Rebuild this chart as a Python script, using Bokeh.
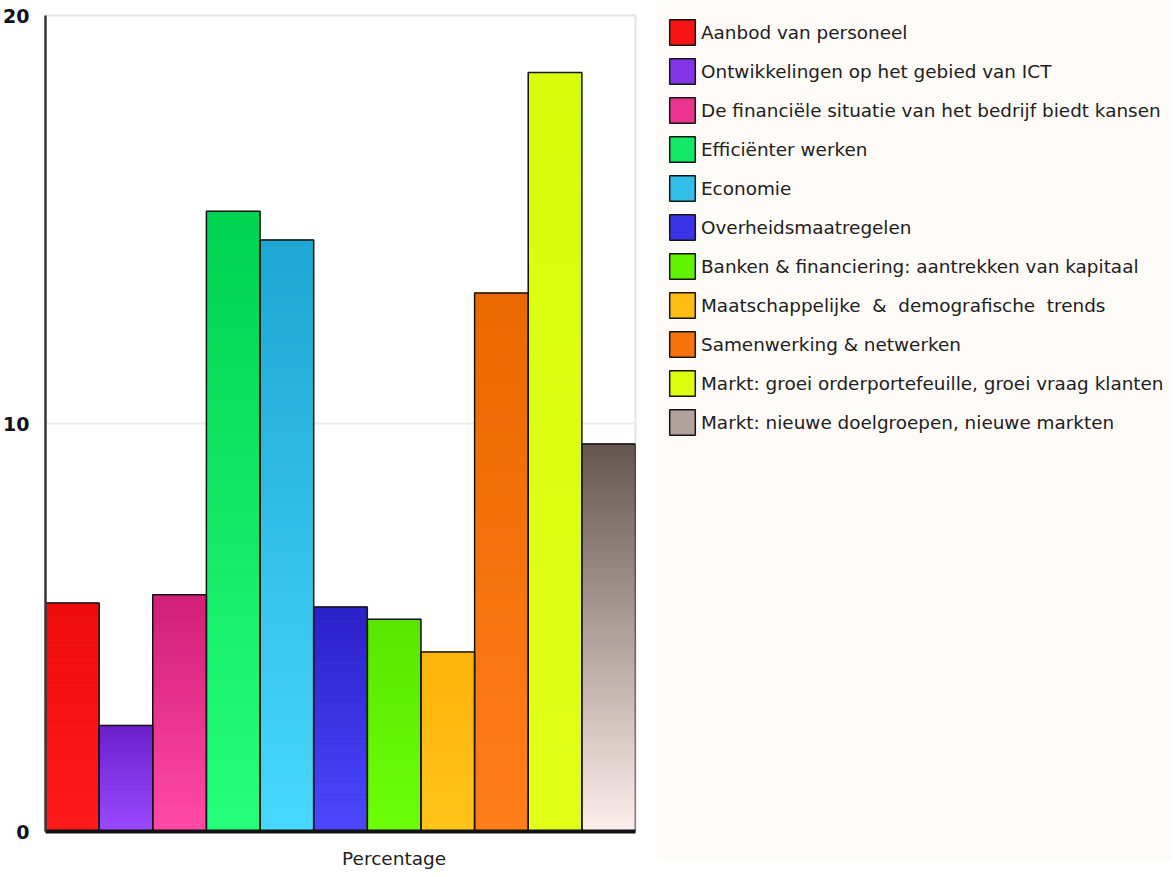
from bokeh.plotting import figure
from bokeh.layouts import row
from bokeh.models import (ColumnDataSource, Legend, LegendItem, FixedTicker, Range1d)
from bokeh.embed import file_html
from bokeh.resources import INLINE

# ---------------- data ----------------
categories = [
    "Aanbod van personeel",
    "Ontwikkelingen op het gebied van ICT",
    "De financiële situatie van het bedrijf biedt kansen",
    "Efficiënter werken",
    "Economie",
    "Overheidsmaatregelen",
    "Banken & financiering: aantrekken van kapitaal",
    "Maatschappelijke  &  demografische  trends",
    "Samenwerking & netwerken",
    "Markt: groei orderportefeuille, groei vraag klanten",
    "Markt: nieuwe doelgroepen, nieuwe markten",
]
values = [5.6, 2.6, 5.8, 15.2, 14.5, 5.5, 5.2, 4.4, 13.2, 18.6, 9.5]
y_ticks = [0, 10, 20]
x_label = "Percentage"

# gradient colours (top of bar, bottom of bar)
top_colors = ["#ee0c0c", "#6a20cc", "#d21f78", "#00d252", "#1ea6d2", "#2a20c8",
              "#58e600", "#ffb40a", "#ea6800", "#d8fc0a", "#665650"]
bottom_colors = ["#ff1a1a", "#9a4aff", "#ff4aa6", "#26ff7c", "#48d8ff", "#4c48ff",
                 "#6cff08", "#ffc31a", "#ff7e1a", "#e2ff18", "#fdefeb"]

CREAM = "#fdfbf7"


def hex2rgb(h):
    h = h.lstrip("#")
    return tuple(int(h[i:i + 2], 16) for i in (0, 2, 4))


def mix(c1, c2, t):
    a, b = hex2rgb(c1), hex2rgb(c2)
    return "#%02x%02x%02x" % tuple(int(round(a[i] + (b[i] - a[i]) * t)) for i in range(3))


n = len(categories)
lefts = [i for i in range(n)]
rights = [i + 1 for i in range(n)]

# gradient slices derived from the values
N = 80
gl, gr, gb, gt, gc = [], [], [], [], []
for i, v in enumerate(values):
    for k in range(N):
        gl.append(lefts[i])
        gr.append(rights[i])
        gb.append(v * k / N)
        gt.append(v * (k + 1) / N)
        gc.append(mix(bottom_colors[i], top_colors[i], (k + 0.5) / N))

mid_colors = [mix(bottom_colors[i], top_colors[i], 0.5) for i in range(n)]

p = figure(frame_width=590, frame_height=816,
           min_border_left=39, min_border_top=15, min_border_bottom=30,
           min_border_right=21,
           x_range=Range1d(0, n), y_range=Range1d(0, 20),
           output_backend="svg", toolbar_location=None,
           background_fill_color="white", border_fill_color="white")

base_src = ColumnDataSource(dict(left=lefts, right=rights, bottom=[0] * n,
                                 top=values, color=mid_colors, cat=categories))

p.quad(left=gl, right=gr, bottom=gb, top=gt, fill_color=gc, line_color=gc,
       line_width=1)
p.quad(left="left", right="right", bottom="bottom", top="top",
       fill_color=None, line_color="#151515", line_width=1.5, source=base_src)

# axes
p.yaxis.ticker = FixedTicker(ticks=y_ticks)
p.yaxis.major_tick_line_color = None
p.yaxis.minor_tick_line_color = None
p.yaxis.major_label_text_font = "DejaVu Sans"
p.yaxis.major_label_text_font_style = "bold"
p.yaxis.major_label_text_font_size = "19px"
p.yaxis.major_label_text_color = "#101020"
p.yaxis.major_label_standoff = 10
p.yaxis.axis_line_color = "#3a3a3a"
p.yaxis.axis_line_width = 2.5

p.xaxis.ticker = FixedTicker(ticks=[6.5])
p.xaxis.major_label_overrides = {6.5: x_label}
p.xaxis.major_tick_line_color = None
p.xaxis.minor_tick_line_color = None
p.xaxis.major_label_text_font = "DejaVu Sans"
p.xaxis.major_label_text_font_size = "18.5px"
p.xaxis.major_label_text_color = "#222222"
p.xaxis.major_label_standoff = 10
p.xaxis.axis_line_color = "#111111"
p.xaxis.axis_line_width = 4

p.xgrid.grid_line_color = None
p.ygrid.ticker = FixedTicker(ticks=y_ticks)
p.ygrid.grid_line_color = "#ebebeb"
p.ygrid.grid_line_width = 2

p.outline_line_color = "#e4e4e4"
p.outline_line_width = 2

# ---------------- legend panel ----------------
LH = 861
q = figure(width=516, height=LH, x_range=Range1d(100, 101), y_range=Range1d(100, 101),
           x_axis_type=None, y_axis_type=None,
           min_border=0, output_backend="svg", toolbar_location=None,
           background_fill_color=CREAM, border_fill_color=CREAM)
q.outline_line_color = None
q.grid.grid_line_color = None
swatches = q.quad(left="left", right="right", bottom="bottom", top="top",
                  fill_color="color", line_color="#151515", line_width=1.5,
                  source=base_src)

items = [LegendItem(label=categories[i], renderers=[swatches], index=i) for i in range(n)]
legend_h = 11 * 32 + 10 * 7
legend = Legend(items=items, location=(10, LH - 44 - 12 - legend_h), margin=0, padding=0,
                glyph_width=32, glyph_height=32, spacing=7, label_height=32,
                label_standoff=3,
                label_text_font="DejaVu Sans", label_text_font_size="18.4px",
                label_text_color="#222020",
                background_fill_color=CREAM, background_fill_alpha=1.0,
                border_line_alpha=0)
q.add_layout(legend)

layout = row(p, q, spacing=0)
open("out.html", "w").write(file_html(layout, INLINE))
